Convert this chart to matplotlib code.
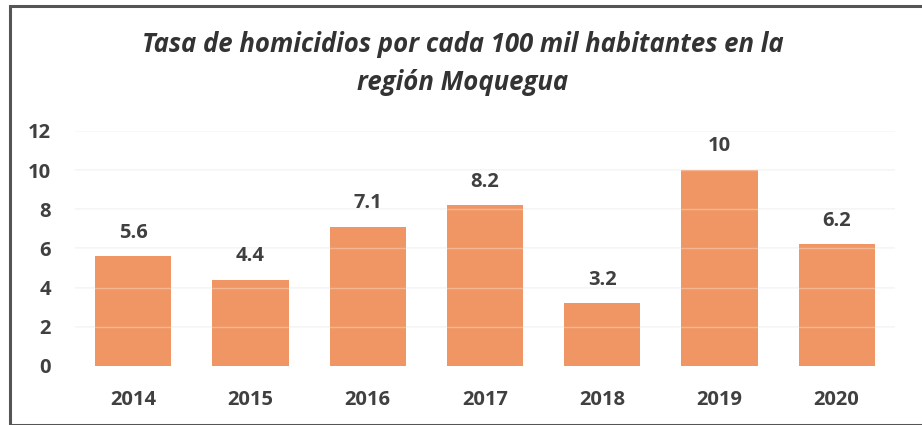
import matplotlib.pyplot as plt
from matplotlib.patches import Rectangle

plt.rcParams['font.family'] = ['Open Sans', 'DejaVu Sans']

# datos
anios = ['2014', '2015', '2016', '2017', '2018', '2019', '2020']
tasas = [5.6, 4.4, 7.1, 8.2, 3.2, 10, 6.2]
etiquetas = ['5.6', '4.4', '7.1', '8.2', '3.2', '10', '6.2']
yticks = [0, 2, 4, 6, 8, 10, 12]

titulo = 'Tasa de homicidios por cada 100 mil habitantes en la\nregión Moquegua'
gris = '#404040'

fig = plt.figure(figsize=(9.22, 4.25), dpi=100)
ax = fig.add_axes([0.081, 0.139, 0.89, 0.553])

x = range(len(anios))
ax.bar(x, tasas, width=0.65, color='#F09664', zorder=2)
# lineas de cuadricula (claras, apenas visibles sobre las barras)
for t in yticks[1:]:
    ax.axhline(t, color='#F3F3F3', lw=1.2, zorder=1)
    ax.axhline(t, color='white', lw=1.0, alpha=0.3, zorder=3)

for i, (v, lab) in enumerate(zip(tasas, etiquetas)):
    ax.text(i, v + 0.7, lab, ha='center', va='bottom', fontsize=14.5,
            fontweight='bold', color=gris)

ax.set_ylim(0, 12)
ax.set_xlim(-0.5, len(anios) - 0.5)
ax.set_yticks(yticks)
ax.set_xticks(list(x))
ax.set_xticklabels(anios)
ax.tick_params(length=0, labelsize=14.5, colors=gris, pad=17)
ax.tick_params(axis='y', pad=17)
for lbl in ax.get_xticklabels() + ax.get_yticklabels():
    lbl.set_fontweight('bold')
for s in ax.spines.values():
    s.set_visible(False)

fig.text(0.502, 0.85, titulo, ha='center', va='center', fontsize=18.5,
         fontweight='bold', fontstyle='italic', color='#333333',
         linespacing=1.5)

# marco del grafico
fig.patches.append(Rectangle((0.011, 0.0), 1.2, 0.985, transform=fig.transFigure,
                             fill=False, edgecolor='#555555', lw=2.2))

fig.savefig('out.png', dpi=100)
